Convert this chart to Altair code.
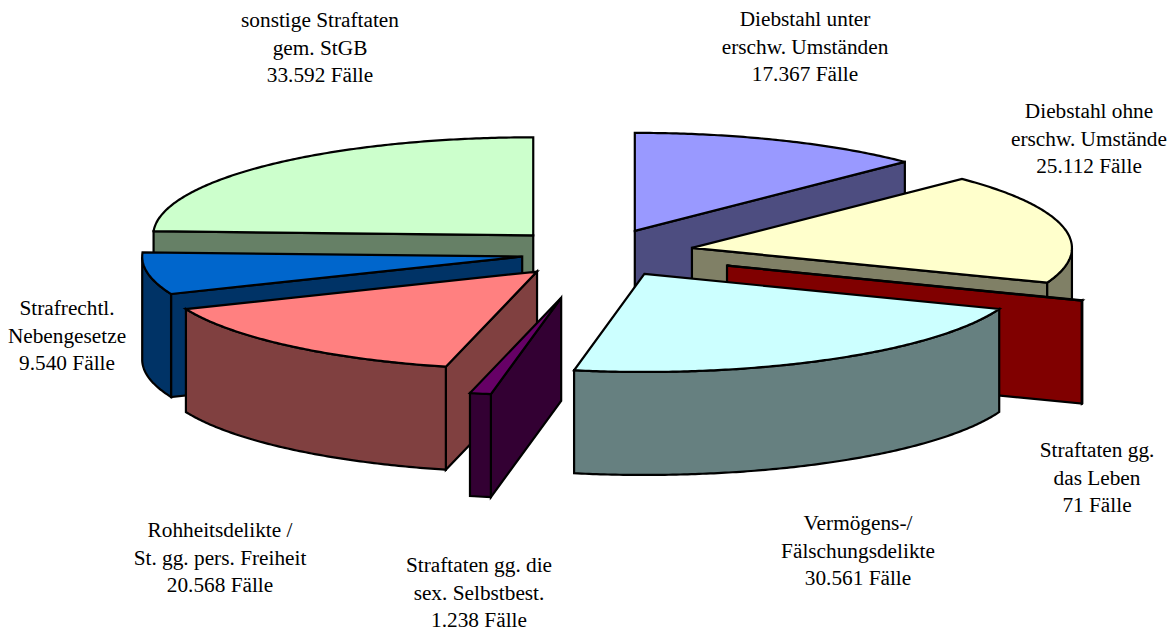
import math
import altair as alt

# Case counts per offence group, clockwise from twelve o'clock
names = [
    "Diebstahl unter erschw. Umständen", "Diebstahl ohne erschw. Umstände",
    "Straftaten gg. das Leben", "Vermögens-/Fälschungsdelikte",
    "Straftaten gg. die sex. Selbstbest.", "Rohheitsdelikte / St. gg. pers. Freiheit",
    "Strafrechtl. Nebengesetze", "sonstige Straftaten gem. StGB",
]
cases = [17367, 25112, 71, 30561, 1238, 20568, 9540, 33592]
top_colors = ["#9999FF", "#FFFFCC", "#800000", "#CCFFFF", "#660066", "#FF8080", "#0066CC", "#CCFFCC"]
side_colors = ["#4D4D80", "#808066", "#800000", "#668080", "#330033", "#804040", "#003366", "#668066"]
explode = [93, 95, 137, 93, 178, 95, 78, 95]

# Multi-line category captions
label_lines = [
    ["Diebstahl unter", "erschw. Umständen", "17.367 Fälle"],
    ["Diebstahl ohne", "erschw. Umstände", "25.112 Fälle"],
    ["Straftaten gg.", "das Leben", "71 Fälle"],
    ["Vermögens-/", "Fälschungsdelikte", "30.561 Fälle"],
    ["Straftaten gg. die", "sex. Selbstbest.", "1.238 Fälle"],
    ["Rohheitsdelikte /", "St. gg. pers. Freiheit", "20.568 Fälle"],
    ["Strafrechtl.", "Nebengesetze", "9.540 Fälle"],
    ["sonstige Straftaten", "gem. StGB", "33.592 Fälle"],
]
label_x = [805, 1089, 1097, 858, 479, 220, 67, 320]
label_y = [20, 112, 451, 524, 566, 531, 309, 21]
line_height = 27.5

# Oblique view of the pie
CX, CY = 599, 253
RX, RY = 380, 98
DEPTH = 103
draw_order = [0, 1, 2, 7, 6, 5, 4, 3]

total = sum(cases)
features = []


def add_face(ring, fill):
    ring = [list(p) for p in ring] + [list(ring[0])]
    features.append({
        "type": "Feature",
        "properties": {"fill": fill},
        "geometry": {"type": "Polygon", "coordinates": [ring]},
    })


starts = [sum(cases[:i]) / total * 2 * math.pi for i in range(len(cases))]
ends = [sum(cases[: i + 1]) / total * 2 * math.pi for i in range(len(cases))]

for i in draw_order:
    a0, a1 = starts[i], ends[i]
    mid = (a0 + a1) / 2
    ax = CX + explode[i] * math.sin(mid)
    ay = CY - explode[i] * math.cos(mid) * RY / RX

    def rim(a):
        return (ax + RX * math.sin(a), ay - RY * math.cos(a))

    def drop(p):
        return (p[0], p[1] + DEPTH)

    n = max(2, int((a1 - a0) / 0.01))
    arc_angles = [a0 + (a1 - a0) * k / n for k in range(n + 1)]

    # Radial walls facing the viewer
    if math.sin(a1) > 0:
        add_face([(ax, ay), rim(a1), drop(rim(a1)), (ax, ay + DEPTH)], side_colors[i])
    if math.sin(a0) < 0:
        add_face([(ax, ay), rim(a0), drop(rim(a0)), (ax, ay + DEPTH)], side_colors[i])

    # Curved outer wall: only the half of the rim nearest the viewer
    front = [a for a in arc_angles if math.cos(a) < 0]
    if len(front) >= 2:
        upper = [rim(a) for a in front]
        add_face(upper + [drop(p) for p in reversed(upper)], side_colors[i])

    # Top face
    add_face([(ax, ay)] + [rim(a) for a in arc_angles], top_colors[i])

shapes = (
    alt.Chart(alt.Data(values=features))
    .mark_geoshape(stroke="#000000", strokeWidth=2.2, strokeJoin="miter")
    .encode(fill=alt.Fill("properties.fill:N", scale=None, legend=None))
    .project(type="identity", scale=1, translate=[0, 0])
)

text_rows = [
    {"line": line, "x": label_x[i], "y": label_y[i] + k * line_height}
    for i, lines in enumerate(label_lines)
    for k, line in enumerate(lines)
]
labels = (
    alt.Chart(alt.Data(values=text_rows))
    .mark_text(font="Liberation Serif", fontSize=21.3, color="#000000", align="center", baseline="middle")
    .encode(
        x=alt.X("x:Q", scale=None, axis=None),
        y=alt.Y("y:Q", scale=None, axis=None),
        text="line:N",
    )
)

chart = (
    alt.layer(shapes, labels)
    .properties(width=1176, height=632, padding=0, autosize=alt.AutoSizeParams(type="none"), background="#FFFFFF")
    .configure_view(stroke=None)
)

chart.save("out.html", embed_options={"renderer": "svg", "actions": False})
